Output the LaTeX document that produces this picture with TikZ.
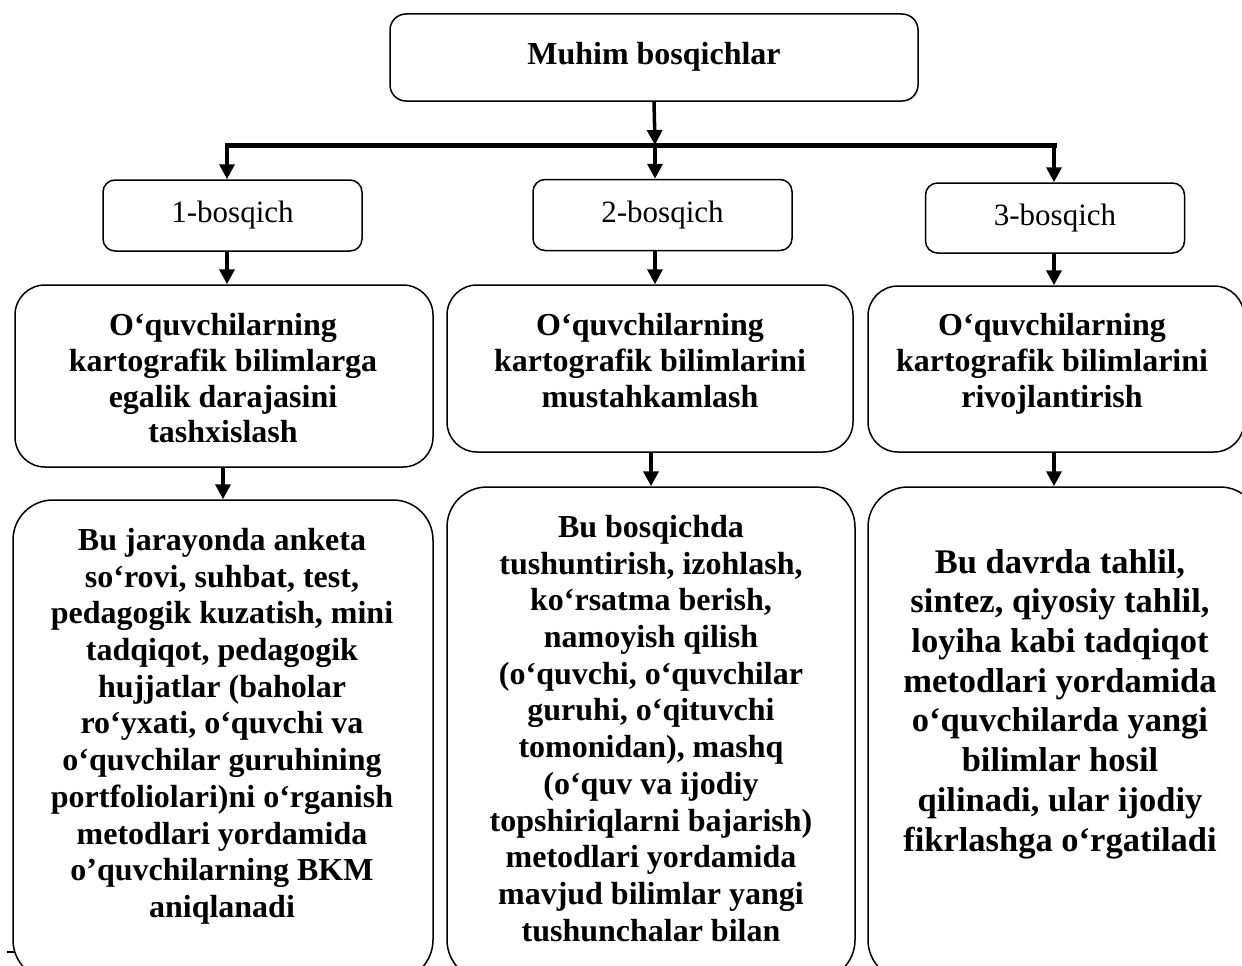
\documentclass[tikz,border=0pt]{standalone}
\usepackage{fontspec}
\setmainfont{Liberation Serif}
\usetikzlibrary{arrows.meta}
\begin{document}
\begin{tikzpicture}[x=1pt,y=-1pt,
  box/.style={draw, line width=1.5pt, rounded corners=#1, inner sep=0pt},
  stagebox/.style={box=12pt, minimum width=259pt, minimum height=71pt,
     font=\fontsize{31}{35}\selectfont},
  midtxt/.style={anchor=north, align=center, inner sep=0pt,
     font=\fontsize{32}{35.8}\selectfont\bfseries},
  bottxt/.style={anchor=north, align=center, inner sep=0pt,
     font=\fontsize{32}{36.7}\selectfont\bfseries},
  arr/.style={line width=3.5pt, -{Triangle[width=15pt,length=15pt]}},
  barline/.style={line width=5pt, line cap=rect}]
\useasboundingbox (0,0) rectangle (1242,966);
\clip (0,0) rectangle (1242,966);

% top box
\node[box=16pt, minimum width=528pt, minimum height=87pt] (top) at (654,57.5) {};
\node[anchor=base, inner sep=0pt, font=\fontsize{32}{36}\selectfont\bfseries] (toptxt) at (654,65) {Muhim bosqichlar};

% bar
\coordinate (bl) at (227,145);
\coordinate (bm) at (655,145);
\coordinate (br) at (1054,145);
\draw[barline] (bl) -- (br);
\draw[arr] (top.south) -- (bm);

% stage boxes
\node[stagebox] (s1) at (232.5,215.5) {1-bosqich};
\node[stagebox] (s2) at (662.5,215) {2-bosqich};
\node[stagebox, minimum height=70pt] (s3) at (1055,218) {3-bosqich};

\draw[arr] (bl) -- (bl |- s1.north);
\draw[arr] (bm) -- (bm |- s2.north);
\draw[arr] (br) -- (br |- s3.north);

% middle boxes
\node[box=30pt, minimum width=418pt, minimum height=182pt] (m1) at (224,376) {};
\node[box=30pt, minimum width=406pt, minimum height=167pt] (m2) at (650,368.5) {};
\node[box=30pt, minimum width=376pt, minimum height=166pt] (m3) at (1056,369) {};

\node[midtxt] (m1t) at (223,313) {O‘quvchilarning\\kartografik bilimlarga\\egalik darajasini\\tashxislash};
\node[midtxt] (m2t) at (650,313) {O‘quvchilarning\\kartografik bilimlarini\\mustahkamlash};
\node[midtxt] (m3t) at (1052,313) {O‘quvchilarning\\kartografik bilimlarini\\rivojlantirish};

\draw[arr] (s1.south -| bl) -- (m1.north -| bl);
\draw[arr] (s2.south -| bm) -- (m2.north -| bm);
\draw[arr] (s3.south -| br) -- (m3.north -| br);

% bottom boxes
\node[box=40pt, minimum width=420pt, minimum height=480pt] (b1) at (223,740) {};
\node[box=40pt, minimum width=408pt, minimum height=493pt] (b2) at (651,733.5) {};
\node[box=40pt, minimum width=392pt, minimum height=493pt] (b3) at (1064,733.5) {};

\draw[arr] (m1.south -| b1.north) -- (b1.north);
\draw[arr] (m2.south -| b2.north) -- (b2.north);
\draw[arr] (m3.south -| br) -- (b3.north -| br);

\node[bottxt] (b1t) at (222,528) {Bu jarayonda anketa\\so‘rovi, suhbat, test,\\pedagogik kuzatish, mini\\tadqiqot, pedagogik\\hujjatlar (baholar\\ro‘yxati, o‘quvchi va\\o‘quvchilar guruhining\\portfoliolari)ni o‘rganish\\metodlari yordamida\\o’quvchilarning BKM\\aniqlanadi};
\node[bottxt] (b2t) at (651,515) {Bu bosqichda\\tushuntirish, izohlash,\\ko‘rsatma berish,\\namoyish qilish\\(o‘quvchi, o‘quvchilar\\guruhi, o‘qituvchi\\tomonidan), mashq\\(o‘quv va ijodiy\\topshiriqlarni bajarish)\\metodlari yordamida\\mavjud bilimlar yangi\\tushunchalar bilan};
\node[bottxt, font=\fontsize{34.5}{39.7}\selectfont\bfseries] (b3t) at (1060,549) {Bu davrda tahlil,\\sintez, qiyosiy tahlil,\\loyiha kabi tadqiqot\\metodlari yordamida\\o‘quvchilarda yangi\\bilimlar hosil\\qilinadi, ular ijodiy\\fikrlashga o‘rgatiladi};

% stray mark
\coordinate (d1) at (7,952);
\coordinate (d2) at (15,952);
\draw[line width=2pt] (d1) -- (d2);
\end{tikzpicture}
\end{document}
